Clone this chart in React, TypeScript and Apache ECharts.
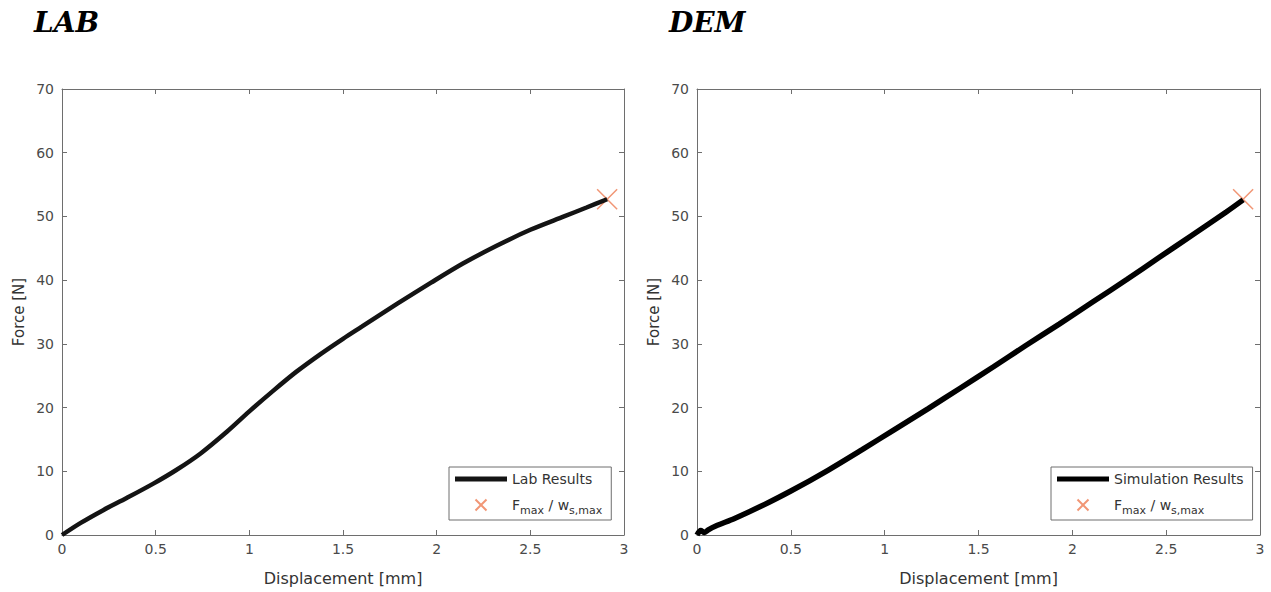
import React, { useEffect, useRef } from 'react';
import * as echarts from 'echarts';

// ---- data ----
const panelTitles = ['LAB', 'DEM'];
const seriesNames = ['Lab Results', 'Simulation Results'];
const peakName = 'Fmax / ws,max';
const xAxisName = 'Displacement [mm]';
const yAxisName = 'Force [N]';

const labDisp = [0, 0.1, 0.22, 0.345, 0.49, 0.61, 0.74, 0.88, 1.0, 1.13, 1.25, 1.38, 1.5, 1.6, 1.79, 1.97, 2.14, 2.32, 2.5, 2.68, 2.8, 2.91];
const labForce = [0, 1.9, 3.9, 5.8, 8.1, 10.2, 12.8, 16.2, 19.4, 22.7, 25.6, 28.4, 30.8, 32.7, 36.3, 39.6, 42.6, 45.4, 47.9, 50.0, 51.4, 52.7];

const demDisp = [0, 0.02, 0.04, 0.06, 0.1, 0.2, 0.34, 0.5, 0.7, 0.88, 1.05, 1.23, 1.4, 1.58, 1.75, 1.93, 2.11, 2.29, 2.46, 2.64, 2.82, 2.91];
const demForce = [0, 0.7, 0.4, 0.8, 1.4, 2.6, 4.5, 6.9, 10.2, 13.4, 16.5, 19.8, 23.0, 26.4, 29.7, 33.1, 36.6, 40.1, 43.5, 47.1, 50.7, 52.6];

const labPeak = [2.91, 52.7];
const demPeak = [2.91, 52.7];

const xMin = 0, xMax = 3, xStep = 0.5;
const yMin = 0, yMax = 70, yStep = 10;

const FONT = 'DejaVu Sans';
const AXIS_COLOR = '#6e6e6e';
const LABEL_COLOR = '#4a4a4a';
const PEAK_COLOR = '#ee7c52';
const CROSS = 'path://M0,0L10,10M0,10L10,0';
const LINE_ICON = 'path://M0,0H52V5H0Z';

const zip = (a: number[], b: number[]) => a.map((v, i) => [v, b[i]]);

function makeAxes(gridIndex: number) {
  const line = { show: true, onZero: false, lineStyle: { color: AXIS_COLOR, width: 1 } };
  const tick = { show: true, inside: true, length: 5, lineStyle: { color: AXIS_COLOR, width: 1 } };
  const xBottom = {
    type: 'value', gridIndex, min: xMin, max: xMax, interval: xStep, position: 'bottom',
    axisLine: line, axisTick: tick, splitLine: { show: false },
    axisLabel: { color: LABEL_COLOR, fontFamily: FONT, fontSize: 14, margin: 7 },
    name: xAxisName, nameLocation: 'middle', nameGap: 35,
    nameTextStyle: { color: '#333', fontFamily: FONT, fontSize: 16 },
  };
  const xTop = {
    type: 'value', gridIndex, min: xMin, max: xMax, interval: xStep, position: 'top',
    axisLine: line, axisTick: tick, splitLine: { show: false }, axisLabel: { show: false },
  };
  const yLeft = {
    type: 'value', gridIndex, min: yMin, max: yMax, interval: yStep, position: 'left',
    axisLine: line, axisTick: tick, splitLine: { show: false },
    axisLabel: { color: LABEL_COLOR, fontFamily: FONT, fontSize: 14, margin: 8 },
    name: yAxisName, nameLocation: 'middle', nameGap: 36,
    nameTextStyle: { color: '#333', fontFamily: FONT, fontSize: 15 },
  };
  const yRight = {
    type: 'value', gridIndex, min: yMin, max: yMax, interval: yStep, position: 'right',
    axisLine: line, axisTick: tick, splitLine: { show: false }, axisLabel: { show: false },
  };
  return { x: [xBottom, xTop], y: [yLeft, yRight] };
}

function makeLegend(left: number, name: string) {
  return {
    left, top: 467, orient: 'vertical',
    data: [{ name, icon: LINE_ICON }, peakName],
    itemWidth: 52, itemHeight: 11, itemGap: 6,
    padding: [3, 9, 4, 6],
    backgroundColor: '#fff', borderColor: AXIS_COLOR, borderWidth: 1, borderRadius: 0,
    selectedMode: false,
    formatter: (n: string) => (n === peakName ? '{n|F}{s|max}{n| / w}{s|s,max}' : n),
    textStyle: {
      fontFamily: FONT, fontSize: 14, color: '#333', lineHeight: 18,
      rich: {
        n: { fontFamily: FONT, fontSize: 14, color: '#333', lineHeight: 22, verticalAlign: 'middle' },
        s: { fontFamily: FONT, fontSize: 11, color: '#333', lineHeight: 12, verticalAlign: 'bottom' },
      },
    },
  };
}

export default function App() {
  const ref = useRef<HTMLDivElement>(null);
  useEffect(() => {
    if (!ref.current) return;
    const chart = echarts.init(ref.current, undefined, { renderer: 'svg' });
    const a0 = makeAxes(0);
    const a1 = makeAxes(1);
    const titleStyle = { fontFamily: 'DejaVu Serif', fontStyle: 'italic', fontWeight: 'bold', fontSize: 28, color: '#000' };
    chart.setOption({
      animation: false,
      backgroundColor: '#fff',
      title: [
        { text: panelTitles[0], left: 34, top: 8, padding: 0, textStyle: titleStyle },
        { text: panelTitles[1], left: 669, top: 8, padding: 0, textStyle: titleStyle },
      ],
      grid: [
        { left: 62, top: 89, width: 562, height: 446 },
        { left: 697, top: 89, width: 563, height: 446 },
      ],
      xAxis: [...a0.x, ...a1.x],
      yAxis: [...a0.y, ...a1.y],
      legend: [makeLegend(449, seriesNames[0]), makeLegend(1051, seriesNames[1])],
      series: [
        {
          name: seriesNames[0], type: 'line', xAxisIndex: 0, yAxisIndex: 0,
          data: zip(labDisp, labForce), symbol: 'none', smooth: 0.3,
          lineStyle: { color: '#141414', width: 4.5 }, itemStyle: { color: '#141414' },
        },
        {
          name: peakName, type: 'scatter', xAxisIndex: 0, yAxisIndex: 0,
          data: [labPeak], symbol: CROSS, symbolSize: 20,
          itemStyle: { color: 'rgba(0,0,0,0)', borderColor: PEAK_COLOR, borderWidth: 1.5 },
        },
        {
          name: seriesNames[1], type: 'line', xAxisIndex: 2, yAxisIndex: 2,
          data: zip(demDisp, demForce), symbol: 'none', smooth: 0.3,
          lineStyle: { color: '#000', width: 5.5 }, itemStyle: { color: '#000' },
        },
        {
          name: peakName, type: 'scatter', xAxisIndex: 2, yAxisIndex: 2,
          data: [demPeak], symbol: CROSS, symbolSize: 20,
          itemStyle: { color: 'rgba(0,0,0,0)', borderColor: PEAK_COLOR, borderWidth: 1.5 },
        },
      ],
    });
    return () => chart.dispose();
  }, []);
  return <div ref={ref} style={{ position: 'fixed', left: 0, top: 0, width: 1271, height: 592 }} />;
}
